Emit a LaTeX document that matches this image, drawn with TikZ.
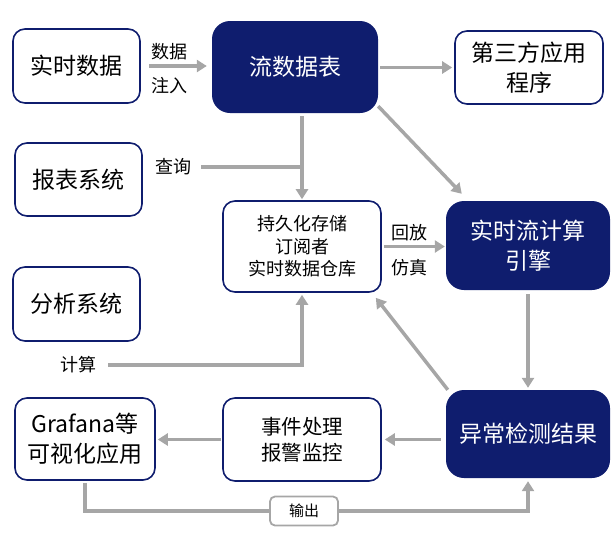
\documentclass[tikz,border=0pt]{standalone}
\usepackage{fontspec}
\setmainfont{Noto Sans CJK SC}
\usetikzlibrary{arrows.meta}
\definecolor{deepblue}{HTML}{0F1D6E}
\definecolor{flowgray}{HTML}{A6A6A6}
\tikzset{
  plainbox/.style={draw=deepblue, line width=1.6pt, rounded corners=12pt, fill=white, inner sep=0pt, align=center},
  darkbox/.style={fill=deepblue, rounded corners=18pt, text=white, inner sep=0pt, align=center},
  outbox/.style={draw=flowgray, line width=1.8pt, rounded corners=5pt, fill=white, inner sep=0pt,
    minimum width=68pt, minimum height=29pt, font=\fontsize{15}{18}\selectfont},
  flow/.style={draw=flowgray, line width=3.5pt, -{Triangle[length=10pt,width=12pt]}},
  link/.style={draw=flowgray, line width=3.5pt},
  tag/.style={inner sep=0pt, font=\fontsize{18}{22}\selectfont},
  big/.style={font=\fontsize{23}{30}\selectfont},
}
\begin{document}
\begin{tikzpicture}[x=1pt,y=-1pt]
   \useasboundingbox (0,0) rectangle (616,539);
   \node[plainbox,big,minimum width=127pt,minimum height=74pt] (src) at (76.5,66) {实时数据};
   \node[darkbox,big,minimum width=166pt,minimum height=92pt] (stream) at (295,67) {流数据表};
   \node[plainbox,big,minimum width=148pt,minimum height=73pt] (third) at (529,67.5) {第三方应用\\程序};
   \node[plainbox,big,minimum width=127pt,minimum height=73pt] (report) at (78.5,179.5) {报表系统};
   \node[plainbox,font=\fontsize{18}{22.5}\selectfont,minimum width=158pt,minimum height=91pt] (store) at (302,246.5) {持久化存储\\订阅者\\实时数据仓库};
   \node[darkbox,big,minimum width=164pt,minimum height=89pt] (engine) at (528,245.5) {实时流计算\\引擎};
   \node[plainbox,big,minimum width=127pt,minimum height=74pt] (analysis) at (76.5,304) {分析系统};
   \node[plainbox,big,minimum width=140pt,minimum height=82pt] (grafana) at (85,439) {Grafana等\\可视化应用};
   \node[plainbox,font=\fontsize{20.5}{26}\selectfont,minimum width=158pt,minimum height=83pt] (event) at (302,439.5) {事件处理\\报警监控};
   \node[darkbox,big,minimum width=164pt,minimum height=88pt] (anomaly) at (528,434) {异常检测结果};

   \node[tag] (inject) at (169,52) {数据};
   \node[tag] (injectb) at (169,86) {注入};
   \node[tag] (query) at (173,167) {查询};
   \node[tag] (replay) at (409,233) {回放};
   \node[tag] (replayb) at (409,268) {仿真};
   \node[tag] (compute) at (78,365) {计算};

   \draw[flow,shorten <=8pt,shorten >=5pt] (src.east) -- (src.east -| stream.west);
   \draw[flow,shorten <=2pt,shorten >=2pt] (stream.east |- third) -- (third.west);
   \draw[flow] ([yshift=7pt]stream.south east) -- ([xshift=16pt,yshift=7pt]engine.north west);
   \draw[flow,shorten <=3pt,shorten >=1pt] (stream.south -| store.north) -- (store.north);
   \draw[link,shorten <=10pt] (query.east) -- (query.east -| store.north);
   \draw[flow,shorten <=2pt,shorten >=1pt] (store.east) -- (store.east -| engine.west);
   \draw[flow,shorten <=12pt,shorten >=2pt] (compute.east) -| (store.south);
   \draw[flow,shorten <=4pt,shorten >=2pt] (engine.south) -- (anomaly.north);
   \draw[flow] ([xshift=2pt]anomaly.north west) -- ([xshift=-6pt,yshift=-5pt]store.south east);
   \draw[flow,shorten <=5pt,shorten >=3pt] (anomaly.west |- event) -- (event.east);
   \draw[flow,shorten <=1pt,shorten >=2pt] (event.west) -- (grafana.east |- event.west);
   \node[outbox] (out) at (304,511) {输出};
   \draw[link,shorten <=2pt] (grafana.south) |- (out.west);
   \draw[flow,shorten >=3pt] (out.east) -| (anomaly.south);
\end{tikzpicture}
\end{document}
